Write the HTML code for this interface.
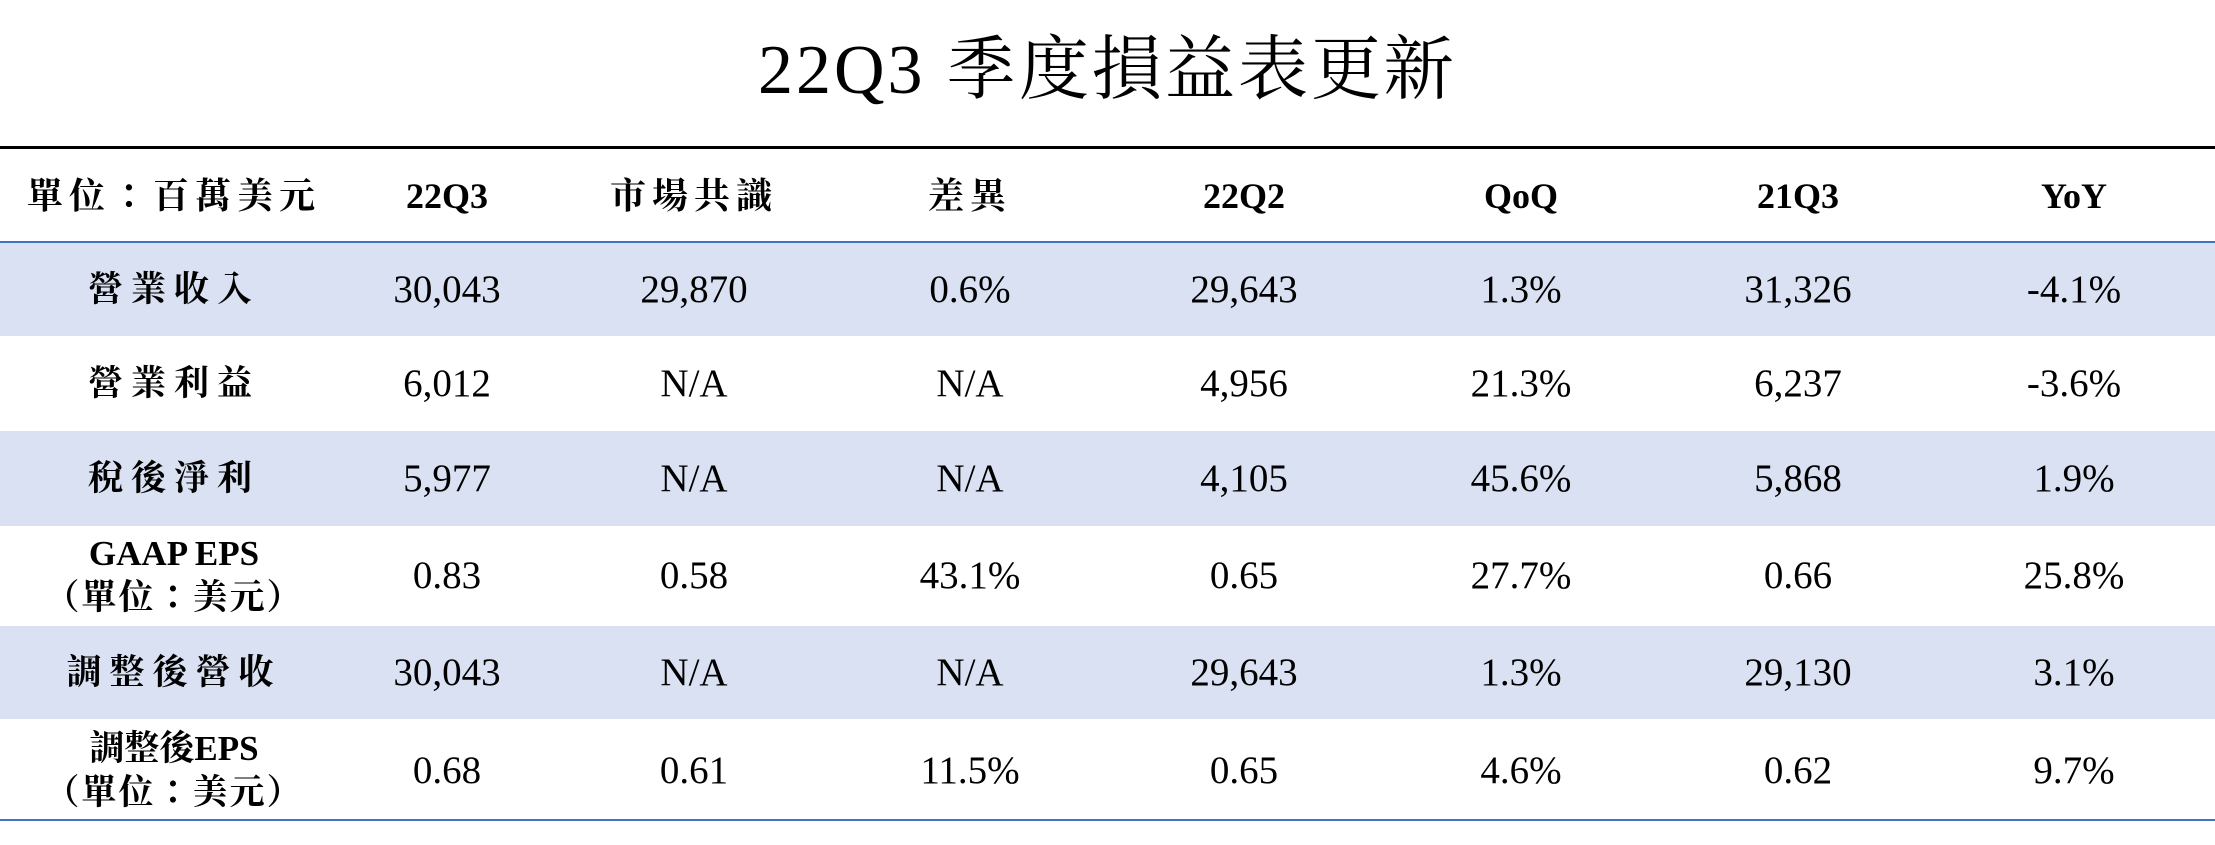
<!DOCTYPE html>
<html><head><meta charset="utf-8"><style>
body{margin:0;width:2215px;height:845px;background:#fff;position:relative;overflow:hidden;font-family:"Liberation Serif","Noto Serif CJK TC","Noto Serif CJK SC",serif;color:#000}
.t{position:absolute;left:0;width:2215px;top:28px;text-align:center;font-size:70px;line-height:86px;letter-spacing:3px}
.band{position:absolute;left:0;width:2215px;background:#d9e1f2}
.line{position:absolute;left:0;width:2215px}
.c{position:absolute;transform:translateX(-50%);text-align:center;white-space:nowrap;font-size:39px;line-height:44px}
.h{font-weight:bold;font-size:36px}
.cj{letter-spacing:6px}
.l{font-weight:bold;font-size:35px}
.lc{letter-spacing:8px}
</style></head><body>
<div class="t">22Q3 季度損益表更新</div>
<div class="line" style="top:146px;height:3px;background:#000"></div>
<div class="band" style="top:242px;height:94px"></div>
<div class="band" style="top:431px;height:95px"></div>
<div class="band" style="top:626px;height:93px"></div>
<div class="line" style="top:241px;height:2px;background:#4472c4"></div>
<div class="line" style="top:819px;height:2px;background:#4472c4"></div>
<div id="rows"></div>
<script>
const xs=[174,447,694,970,1244,1521,1798,2074];
const rows=[
[196,["單位：百萬美元","22Q3","市場共識","差異","22Q2","QoQ","21Q3","YoY"],1],
[290,["營業收入","30,043","29,870","0.6%","29,643","1.3%","31,326","-4.1%"]],
[384,["營業利益","6,012","N/A","N/A","4,956","21.3%","6,237","-3.6%"]],
[479,["稅後淨利","5,977","N/A","N/A","4,105","45.6%","5,868","1.9%"]],
[576,["GAAP EPS<br>（單位：美元）","0.83","0.58","43.1%","0.65","27.7%","0.66","25.8%"]],
[673,["調整後營收","30,043","N/A","N/A","29,643","1.3%","29,130","3.1%"]],
[771,["調整後EPS<br>（單位：美元）","0.68","0.61","11.5%","0.65","4.6%","0.62","9.7%"]]];
let h="";
for(const [y,cells,hd] of rows){cells.forEach((t,i)=>{
 const two=t.includes("<br>");
 const cjk=/[\u4e00-\u9fff]/.test(t);
 let cls=hd?"c h":(i==0?"c l":"c");
 if(cjk&&!two) cls+=hd?" cj":" lc";
 if(two) t=t.replace(/（(.*)）/,'<span style="letter-spacing:2px">（$1）</span>');
 const top=two?y-44:y-22;
 h+=`<div class="${cls}" style="left:${xs[i]}px;top:${top}px">${t}</div>`;});}
document.getElementById("rows").innerHTML=h;
</script>
</body></html>
